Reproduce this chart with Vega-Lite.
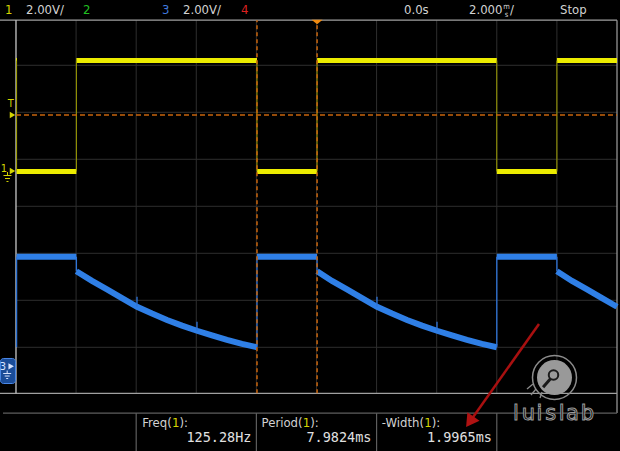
{
"$schema":"https://vega.github.io/schema/vega-lite/v6.json",
"width":620,"height":451,"autosize":{"type":"none"},"padding":0,
"background":"#000000",
"config":{"view":{"stroke":null}},
"resolve":{"scale":{"y":"independent"}},
"datasets":{
"gridV":[{"t":-8},{"t":-6},{"t":-4},{"t":-2},{"t":0},{"t":2},{"t":4},{"t":6},{"t":8}],
"gridH":[{"d":-3},{"d":-2},{"d":-1},{"d":0},{"d":1},{"d":2},{"d":3}],
"borders":[
{"t1":-10.532,"t2":10.0,"d1":3.96,"d2":3.96,"role":"edge"},
{"t1":-10.532,"t2":10.0,"d1":-3.98,"d2":-3.98,"role":"edge"},
{"t1":10.0,"t2":10.0,"d1":-4.4,"d2":3.96,"role":"edge"},
{"t1":-10.433,"t2":10.0,"d1":-4.4,"d2":-4.4,"role":"meas"},
{"t1":-6,"t2":-6,"d1":-5.206,"d2":-4.4,"role":"meas"},
{"t1":-2,"t2":-2,"d1":-5.206,"d2":-4.4,"role":"meas"},
{"t1":2,"t2":2,"d1":-5.206,"d2":-4.4,"role":"meas"},
{"t1":6,"t2":6,"d1":-5.206,"d2":-4.4,"role":"meas"},
{"t1":-10,"t2":-10,"d1":-3.98,"d2":3.96,"role":"left"}
],
"yLevels":[
{"t1":-10,"t2":-9.97,"v":4.72},
{"t1":-9.98,"t2":-7.99,"v":0},
{"t1":-7.99,"t2":-1.98,"v":4.72},
{"t1":-1.98,"t2":0.02,"v":0},
{"t1":0.02,"t2":6.0,"v":4.72},
{"t1":6.0,"t2":8.0,"v":0},
{"t1":8.0,"t2":10.0,"v":4.72}
],
"yEdges":[
{"t":-9.98,"v1":0,"v2":4.72},{"t":-7.99,"v1":0,"v2":4.72},{"t":-1.98,"v1":0,"v2":4.72},
{"t":0.02,"v1":0,"v2":4.72},{"t":6.0,"v1":0,"v2":4.72},{"t":8.0,"v1":0,"v2":4.72}
],
"bFlats":[
{"t1":-9.98,"t2":-7.99,"v":4.68},{"t1":-1.98,"t2":0.02,"v":4.68},{"t1":6.0,"t2":8.0,"v":4.68}
],
"bEdges":[
{"t":-9.98,"v1":0.83,"v2":4.68},{"t":-7.99,"v1":4.06,"v2":4.68},
{"t":-1.98,"v1":0.83,"v2":4.68},{"t":0.02,"v1":4.06,"v2":4.68},
{"t":6.0,"v1":0.83,"v2":4.68},{"t":8.0,"v1":4.06,"v2":4.68},
{"t":-5.973,"v1":2.55,"v2":2.98},{"t":-3.977,"v1":1.53,"v2":1.91},
{"t":2.013,"v1":2.55,"v2":2.98},{"t":4.01,"v1":1.53,"v2":1.91}
],
"bDecay":[
{"c":"A","t":-7.99,"v":4.06},{"c":"A","t":-7.471,"v":3.65},{"c":"A","t":-6.972,"v":3.29},{"c":"A","t":-6.473,"v":2.92},
{"c":"A","t":-5.973,"v":2.55},{"c":"A","t":-5.474,"v":2.26},{"c":"A","t":-4.975,"v":1.99},{"c":"A","t":-4.476,"v":1.75},
{"c":"A","t":-3.977,"v":1.53},{"c":"A","t":-3.478,"v":1.33},{"c":"A","t":-2.978,"v":1.14},{"c":"A","t":-2.479,"v":0.97},
{"c":"A","t":-1.98,"v":0.83},
{"c":"B","t":0.02,"v":4.06},{"c":"B","t":0.516,"v":3.65},{"c":"B","t":1.015,"v":3.29},{"c":"B","t":1.514,"v":2.92},
{"c":"B","t":2.013,"v":2.55},{"c":"B","t":2.512,"v":2.26},{"c":"B","t":3.012,"v":1.99},{"c":"B","t":3.511,"v":1.75},
{"c":"B","t":4.01,"v":1.53},{"c":"B","t":4.509,"v":1.33},{"c":"B","t":5.008,"v":1.14},{"c":"B","t":5.507,"v":0.97},
{"c":"B","t":6.0,"v":0.83},
{"c":"C","t":8.0,"v":4.06},{"c":"C","t":8.502,"v":3.65},{"c":"C","t":9.002,"v":3.29},{"c":"C","t":9.501,"v":2.92},
{"c":"C","t":10.0,"v":2.55}
],
"cursors":[{"t":-1.98},{"t":0.02}],
"statusL":[
{"text":"1","t":-10.366,"role":"ch1"},
{"text":"2.00V/","t":-9.667,"role":"txt"},
{"text":"2","t":-7.77,"role":"ch2"},
{"text":"3","t":-5.141,"role":"ch3"},
{"text":"2.00V/","t":-4.443,"role":"txt"},
{"text":"4","t":-2.512,"role":"ch4"},
{"text":"0.0s","t":2.912,"role":"txt"},
{"text":"/","t":6.44,"role":"txt"},
{"text":"Stop","t":8.103,"role":"txt"}
],
"statusR":[{"text":"2.000","t":6.19,"role":"txt"}],
"msStack":[{"text":"m","t":6.32,"d":4.25},{"text":"s","t":6.32,"d":4.08}],
"measHead":[
{"text":"Freq(","t":-4.818,"role":"txt"},
{"text":"Period(","t":-0.462,"role":"txt"},
{"text":"-Width(","t":3.58,"role":"txt"}
],
"measOne":[{"text":"1","t":-4.812,"role":"ch1"},{"text":"1","t":-0.456,"role":"ch1"},{"text":"1","t":3.587,"role":"ch1"}],
"measTail":[{"text":"):","t":-4.559,"role":"txt"},{"text":"):","t":-0.206,"role":"txt"},{"text":"):","t":3.837,"role":"txt"}],
"measValues":[{"text":"125.28Hz","t":-2.163},{"text":"7.9824ms","t":1.83},{"text":"1.9965ms","t":5.84}],
"leftText":[{"text":"T","t":-10.177,"d":2.172,"role":"ch1"},{"text":"1","t":-10.399,"d":0.794,"role":"ch1"},{"text":"3","t":-10.432,"d":-3.413,"role":"lt"}],
"leftTri":[{"t":-10.116,"d":1.943,"role":"ch1"},{"t":-10.116,"d":0.751,"role":"ch1"},{"t":-10.16,"d":-3.404,"role":"lt"}],
"grounds":[
{"t1":-10.283,"t2":-10.283,"d1":0.73,"d2":0.655,"role":"ch1"},
{"t1":-10.416,"t2":-10.15,"d1":0.655,"d2":0.655,"role":"ch1"},
{"t1":-10.366,"t2":-10.2,"d1":0.591,"d2":0.591,"role":"ch1"},
{"t1":-10.316,"t2":-10.25,"d1":0.528,"d2":0.528,"role":"ch1"},
{"t1":-10.293,"t2":-10.293,"d1":-3.494,"d2":-3.557,"role":"lt"},
{"t1":-10.426,"t2":-10.16,"d1":-3.557,"d2":-3.557,"role":"lt"},
{"t1":-10.376,"t2":-10.21,"d1":-3.611,"d2":-3.611,"role":"lt"},
{"t1":-10.326,"t2":-10.26,"d1":-3.664,"d2":-3.664,"role":"lt"}
],
"box3":[{"t1":-10.516,"t2":-10.017,"d1":-3.238,"d2":-3.77}],
"logoLetters":[{"ch":"l","t":6.639},{"ch":"u","t":7.049},{"ch":"i","t":7.415},{"ch":"s","t":7.797},{"ch":"l","t":8.16},{"ch":"a","t":8.519},{"ch":"b","t":9.018}],
"logoMarks":[
{"t1":7.80,"t2":7.54,"d1":-3.66,"d2":-3.85,"role":"arm"},
{"t1":7.005,"t2":7.205,"d1":-3.887,"d2":-3.781,"role":"tick"},
{"t1":7.138,"t2":7.305,"d1":-4.015,"d2":-3.887,"role":"tick"},
{"t1":7.438,"t2":7.505,"d1":-4.079,"d2":-3.951,"role":"tick"}
],
"logoCenter":[{"t":7.92,"d":-3.643}],
"logoHub":[{"t":7.887,"d":-3.589}],
"arrow":[{"t1":7.404,"t2":5.101,"d1":-2.504,"d2":-4.583}],
"arrowHead":[{"t":5.101,"d":-4.583}],
"trig":[{"t":0.02,"d":3.92}]
},
"layer":[
{"layer":[
 {"data":{"name":"gridV"},"mark":{"type":"rule","color":"#2e2e2e","strokeWidth":1},
  "encoding":{"x":{"field":"t","type":"quantitative","scale":{"domain":[-10.532,10.1],"nice":false,"zero":false},"axis":null},
   "y":{"datum":-3.98,"type":"quantitative","scale":{"domain":[-5.206,4.389],"nice":false,"zero":false},"axis":null},
   "y2":{"datum":3.96}}},
 {"data":{"name":"gridH"},"mark":{"type":"rule","color":"#2e2e2e","strokeWidth":1},
  "encoding":{"x":{"datum":-10,"type":"quantitative","scale":{"domain":[-10.532,10.1],"nice":false,"zero":false},"axis":null},
   "x2":{"datum":10},
   "y":{"field":"d","type":"quantitative","scale":{"domain":[-5.206,4.389],"nice":false,"zero":false},"axis":null}}},
 {"data":{"name":"borders"},"mark":{"type":"rule","strokeWidth":1.2},
  "encoding":{"x":{"field":"t1","type":"quantitative","scale":{"domain":[-10.532,10.1],"nice":false,"zero":false},"axis":null},
   "x2":{"field":"t2"},
   "y":{"field":"d1","type":"quantitative","scale":{"domain":[-5.206,4.389],"nice":false,"zero":false},"axis":null},
   "y2":{"field":"d2"},
   "color":{"field":"role","type":"nominal","scale":{"domain":["ch1","ch2","ch3","ch4","txt","edge","left","meas","lt"],"range":["#d4d400","#20c020","#3f78dc","#dc2020","#d2d2d2","#a0a0a0","#d8d8d8","#5e5e5e","#d8e4ff"]},"legend":null}}}
]},
{"layer":[
 {"data":{"name":"yLevels"},"mark":{"type":"rule","color":"#ecec00","strokeWidth":5},
  "encoding":{"x":{"field":"t1","type":"quantitative","scale":{"domain":[-10.532,10.1],"nice":false,"zero":false},"axis":null},
   "x2":{"field":"t2"},
   "y":{"field":"v","type":"quantitative","scale":{"domain":[-11.894,7.298],"nice":false,"zero":false},"axis":null}}},
 {"data":{"name":"yEdges"},"mark":{"type":"rule","color":"#a0a000","strokeWidth":1},
  "encoding":{"x":{"field":"t","type":"quantitative","scale":{"domain":[-10.532,10.1],"nice":false,"zero":false},"axis":null},
   "y":{"field":"v1","type":"quantitative","scale":{"domain":[-11.894,7.298],"nice":false,"zero":false},"axis":null},
   "y2":{"field":"v2"}}}
]},
{"layer":[
 {"data":{"name":"bDecay"},"mark":{"type":"line","color":"#2f7fe6","strokeWidth":6},
  "encoding":{"x":{"field":"t","type":"quantitative","scale":{"domain":[-10.532,10.1],"nice":false,"zero":false},"axis":null},
   "y":{"field":"v","type":"quantitative","scale":{"domain":[-3.587,15.604],"nice":false,"zero":false},"axis":null},
   "detail":{"field":"c","type":"nominal"}}},
 {"data":{"name":"bFlats"},"mark":{"type":"rule","color":"#2f7fe6","strokeWidth":6},
  "encoding":{"x":{"field":"t1","type":"quantitative","scale":{"domain":[-10.532,10.1],"nice":false,"zero":false},"axis":null},
   "x2":{"field":"t2"},
   "y":{"field":"v","type":"quantitative","scale":{"domain":[-3.587,15.604],"nice":false,"zero":false},"axis":null}}},
 {"data":{"name":"bEdges"},"mark":{"type":"rule","color":"#2f74d8","strokeWidth":1.3},
  "encoding":{"x":{"field":"t","type":"quantitative","scale":{"domain":[-10.532,10.1],"nice":false,"zero":false},"axis":null},
   "y":{"field":"v1","type":"quantitative","scale":{"domain":[-3.587,15.604],"nice":false,"zero":false},"axis":null},
   "y2":{"field":"v2"}}}
]},
{"layer":[
 {"data":{"name":"cursors"},"mark":{"type":"rule","color":"#c8640c","strokeWidth":1.5,"strokeDash":[4,3]},
  "encoding":{"x":{"field":"t","type":"quantitative","scale":{"domain":[-10.532,10.1],"nice":false,"zero":false},"axis":null},
   "y":{"datum":-3.98,"type":"quantitative","scale":{"domain":[-5.206,4.389],"nice":false,"zero":false},"axis":null},
   "y2":{"datum":3.96}}},
 {"data":{"values":[{"d":1.943}]},"mark":{"type":"rule","color":"#c8640c","strokeWidth":1.5,"strokeDash":[5,3]},
  "encoding":{"x":{"datum":-10,"type":"quantitative","scale":{"domain":[-10.532,10.1],"nice":false,"zero":false},"axis":null},
   "x2":{"datum":10},
   "y":{"field":"d","type":"quantitative","scale":{"domain":[-5.206,4.389],"nice":false,"zero":false},"axis":null}}},
 {"data":{"name":"trig"},"mark":{"type":"point","shape":"M-1,-0.4L1,-0.4L0,0.4Z","size":121,"filled":true,"color":"#f08a10","opacity":1},
  "encoding":{"x":{"field":"t","type":"quantitative","scale":{"domain":[-10.532,10.1],"nice":false,"zero":false},"axis":null},
   "y":{"field":"d","type":"quantitative","scale":{"domain":[-5.206,4.389],"nice":false,"zero":false},"axis":null}}},
 {"data":{"name":"box3"},"mark":{"type":"rect","fill":"#1a4c98","stroke":"#4a88e8","strokeWidth":1,"cornerRadius":3},
  "encoding":{"x":{"field":"t1","type":"quantitative","scale":{"domain":[-10.532,10.1],"nice":false,"zero":false},"axis":null},
   "x2":{"field":"t2"},
   "y":{"field":"d1","type":"quantitative","scale":{"domain":[-5.206,4.389],"nice":false,"zero":false},"axis":null},
   "y2":{"field":"d2"}}},
 {"data":{"name":"grounds"},"mark":{"type":"rule","strokeWidth":1},
  "encoding":{"x":{"field":"t1","type":"quantitative","scale":{"domain":[-10.532,10.1],"nice":false,"zero":false},"axis":null},
   "x2":{"field":"t2"},
   "y":{"field":"d1","type":"quantitative","scale":{"domain":[-5.206,4.389],"nice":false,"zero":false},"axis":null},
   "y2":{"field":"d2"},
   "color":{"field":"role","type":"nominal","scale":{"domain":["ch1","ch2","ch3","ch4","txt","edge","left","meas","lt"],"range":["#d4d400","#20c020","#3f78dc","#dc2020","#d2d2d2","#a0a0a0","#d8d8d8","#5e5e5e","#d8e4ff"]},"legend":null}}},
 {"data":{"name":"leftTri"},"mark":{"type":"point","shape":"triangle-right","size":40,"filled":true,"opacity":1},
  "encoding":{"x":{"field":"t","type":"quantitative","scale":{"domain":[-10.532,10.1],"nice":false,"zero":false},"axis":null},
   "y":{"field":"d","type":"quantitative","scale":{"domain":[-5.206,4.389],"nice":false,"zero":false},"axis":null},
   "color":{"field":"role","type":"nominal","scale":{"domain":["ch1","ch2","ch3","ch4","txt","edge","left","meas","lt"],"range":["#d4d400","#20c020","#3f78dc","#dc2020","#d2d2d2","#a0a0a0","#d8d8d8","#5e5e5e","#d8e4ff"]},"legend":null}}},
 {"data":{"name":"leftText"},"mark":{"type":"text","font":"DejaVu Sans Condensed, DejaVu Sans, sans-serif","fontSize":11,"align":"center","baseline":"middle"},
  "encoding":{"x":{"field":"t","type":"quantitative","scale":{"domain":[-10.532,10.1],"nice":false,"zero":false},"axis":null},
   "y":{"field":"d","type":"quantitative","scale":{"domain":[-5.206,4.389],"nice":false,"zero":false},"axis":null},
   "text":{"field":"text"},
   "color":{"field":"role","type":"nominal","scale":{"domain":["ch1","ch2","ch3","ch4","txt","edge","left","meas","lt"],"range":["#d4d400","#20c020","#3f78dc","#dc2020","#d2d2d2","#a0a0a0","#d8d8d8","#5e5e5e","#d8e4ff"]},"legend":null}}},
 {"data":{"name":"statusL"},"mark":{"type":"text","font":"DejaVu Sans Condensed, DejaVu Sans, sans-serif","fontSize":13,"align":"left","baseline":"middle"},
  "encoding":{"x":{"field":"t","type":"quantitative","scale":{"domain":[-10.532,10.1],"nice":false,"zero":false},"axis":null},
   "y":{"datum":4.177,"type":"quantitative","scale":{"domain":[-5.206,4.389],"nice":false,"zero":false},"axis":null},
   "text":{"field":"text"},
   "color":{"field":"role","type":"nominal","scale":{"domain":["ch1","ch2","ch3","ch4","txt","edge","left","meas","lt"],"range":["#d4d400","#20c020","#3f78dc","#dc2020","#d2d2d2","#a0a0a0","#d8d8d8","#5e5e5e","#d8e4ff"]},"legend":null}}},
 {"data":{"name":"statusR"},"mark":{"type":"text","font":"DejaVu Sans Condensed, DejaVu Sans, sans-serif","fontSize":13,"align":"right","baseline":"middle","color":"#d2d2d2"},
  "encoding":{"x":{"field":"t","type":"quantitative","scale":{"domain":[-10.532,10.1],"nice":false,"zero":false},"axis":null},
   "y":{"datum":4.177,"type":"quantitative","scale":{"domain":[-5.206,4.389],"nice":false,"zero":false},"axis":null},
   "text":{"field":"text"}}},
 {"data":{"name":"msStack"},"mark":{"type":"text","font":"DejaVu Sans Condensed, DejaVu Sans, sans-serif","fontSize":7.5,"align":"center","baseline":"middle","color":"#d2d2d2"},
  "encoding":{"x":{"field":"t","type":"quantitative","scale":{"domain":[-10.532,10.1],"nice":false,"zero":false},"axis":null},
   "y":{"field":"d","type":"quantitative","scale":{"domain":[-5.206,4.389],"nice":false,"zero":false},"axis":null},
   "text":{"field":"text"}}},
 {"data":{"name":"measHead"},"mark":{"type":"text","font":"DejaVu Sans Condensed, DejaVu Sans, sans-serif","fontSize":13,"align":"right","baseline":"middle"},
  "encoding":{"x":{"field":"t","type":"quantitative","scale":{"domain":[-10.532,10.1],"nice":false,"zero":false},"axis":null},
   "y":{"datum":-4.611,"type":"quantitative","scale":{"domain":[-5.206,4.389],"nice":false,"zero":false},"axis":null},
   "text":{"field":"text"},
   "color":{"field":"role","type":"nominal","scale":{"domain":["ch1","ch2","ch3","ch4","txt","edge","left","meas","lt"],"range":["#d4d400","#20c020","#3f78dc","#dc2020","#d2d2d2","#a0a0a0","#d8d8d8","#5e5e5e","#d8e4ff"]},"legend":null}}},
 {"data":{"name":"measOne"},"mark":{"type":"text","font":"DejaVu Sans Condensed, DejaVu Sans, sans-serif","fontSize":13,"align":"left","baseline":"middle"},
  "encoding":{"x":{"field":"t","type":"quantitative","scale":{"domain":[-10.532,10.1],"nice":false,"zero":false},"axis":null},
   "y":{"datum":-4.611,"type":"quantitative","scale":{"domain":[-5.206,4.389],"nice":false,"zero":false},"axis":null},
   "text":{"field":"text"},
   "color":{"field":"role","type":"nominal","scale":{"domain":["ch1","ch2","ch3","ch4","txt","edge","left","meas","lt"],"range":["#d4d400","#20c020","#3f78dc","#dc2020","#d2d2d2","#a0a0a0","#d8d8d8","#5e5e5e","#d8e4ff"]},"legend":null}}},
 {"data":{"name":"measTail"},"mark":{"type":"text","font":"DejaVu Sans Condensed, DejaVu Sans, sans-serif","fontSize":13,"align":"left","baseline":"middle"},
  "encoding":{"x":{"field":"t","type":"quantitative","scale":{"domain":[-10.532,10.1],"nice":false,"zero":false},"axis":null},
   "y":{"datum":-4.611,"type":"quantitative","scale":{"domain":[-5.206,4.389],"nice":false,"zero":false},"axis":null},
   "text":{"field":"text"},
   "color":{"field":"role","type":"nominal","scale":{"domain":["ch1","ch2","ch3","ch4","txt","edge","left","meas","lt"],"range":["#d4d400","#20c020","#3f78dc","#dc2020","#d2d2d2","#a0a0a0","#d8d8d8","#5e5e5e","#d8e4ff"]},"legend":null}}},
 {"data":{"name":"measValues"},"mark":{"type":"text","font":"DejaVu Sans Mono, Liberation Mono, monospace","fontSize":13.5,"align":"right","baseline":"middle","color":"#e0e0e0"},
  "encoding":{"x":{"field":"t","type":"quantitative","scale":{"domain":[-10.532,10.1],"nice":false,"zero":false},"axis":null},
   "y":{"datum":-4.93,"type":"quantitative","scale":{"domain":[-5.206,4.389],"nice":false,"zero":false},"axis":null},
   "text":{"field":"text"}}},
 {"data":{"name":"logoCenter"},"mark":{"type":"point","shape":"circle","size":1936,"filled":false,"stroke":"#8c8c8c","strokeWidth":1.5,"opacity":1},
  "encoding":{"x":{"field":"t","type":"quantitative","scale":{"domain":[-10.532,10.1],"nice":false,"zero":false},"axis":null},
   "y":{"field":"d","type":"quantitative","scale":{"domain":[-5.206,4.389],"nice":false,"zero":false},"axis":null}}},
 {"data":{"name":"logoCenter"},"mark":{"type":"point","shape":"circle","size":1225,"filled":true,"color":"#999999","opacity":1},
  "encoding":{"x":{"field":"t","type":"quantitative","scale":{"domain":[-10.532,10.1],"nice":false,"zero":false},"axis":null},
   "y":{"field":"d","type":"quantitative","scale":{"domain":[-5.206,4.389],"nice":false,"zero":false},"axis":null}}},
 {"data":{"name":"logoMarks"},"mark":{"type":"rule"},
  "encoding":{"x":{"field":"t1","type":"quantitative","scale":{"domain":[-10.532,10.1],"nice":false,"zero":false},"axis":null},
   "x2":{"field":"t2"},
   "y":{"field":"d1","type":"quantitative","scale":{"domain":[-5.206,4.389],"nice":false,"zero":false},"axis":null},
   "y2":{"field":"d2"},
   "strokeWidth":{"field":"role","type":"nominal","scale":{"domain":["arm","tick"],"range":[3,1.3]},"legend":null},
   "stroke":{"field":"role","type":"nominal","scale":{"domain":["arm","tick"],"range":["#1a1a1a","#8c8c8c"]},"legend":null}}},
 {"data":{"name":"logoHub"},"mark":{"type":"point","shape":"circle","size":90,"filled":true,"fill":"#999999","stroke":"#1a1a1a","strokeWidth":2,"opacity":1},
  "encoding":{"x":{"field":"t","type":"quantitative","scale":{"domain":[-10.532,10.1],"nice":false,"zero":false},"axis":null},
   "y":{"field":"d","type":"quantitative","scale":{"domain":[-5.206,4.389],"nice":false,"zero":false},"axis":null}}},
 {"data":{"name":"logoLetters"},"mark":{"type":"text","font":"DejaVu Sans","fontSize":21,"align":"center","baseline":"alphabetic","fill":"#000000","stroke":"#9a9a9a","strokeWidth":1},
  "encoding":{"x":{"field":"t","type":"quantitative","scale":{"domain":[-10.532,10.1],"nice":false,"zero":false},"axis":null},
   "y":{"datum":-4.547,"type":"quantitative","scale":{"domain":[-5.206,4.389],"nice":false,"zero":false},"axis":null},
   "text":{"field":"ch"}}},
 {"data":{"name":"arrow"},"mark":{"type":"rule","color":"#a81010","strokeWidth":2.5},
  "encoding":{"x":{"field":"t1","type":"quantitative","scale":{"domain":[-10.532,10.1],"nice":false,"zero":false},"axis":null},
   "x2":{"field":"t2"},
   "y":{"field":"d1","type":"quantitative","scale":{"domain":[-5.206,4.389],"nice":false,"zero":false},"axis":null},
   "y2":{"field":"d2"}}},
 {"data":{"name":"arrowHead"},"mark":{"type":"point","shape":"triangle-up","size":220,"filled":true,"color":"#b01212","opacity":1,"angle":215},
  "encoding":{"x":{"field":"t","type":"quantitative","scale":{"domain":[-10.532,10.1],"nice":false,"zero":false},"axis":null},
   "y":{"field":"d","type":"quantitative","scale":{"domain":[-5.206,4.389],"nice":false,"zero":false},"axis":null}}}
]}
]
}
